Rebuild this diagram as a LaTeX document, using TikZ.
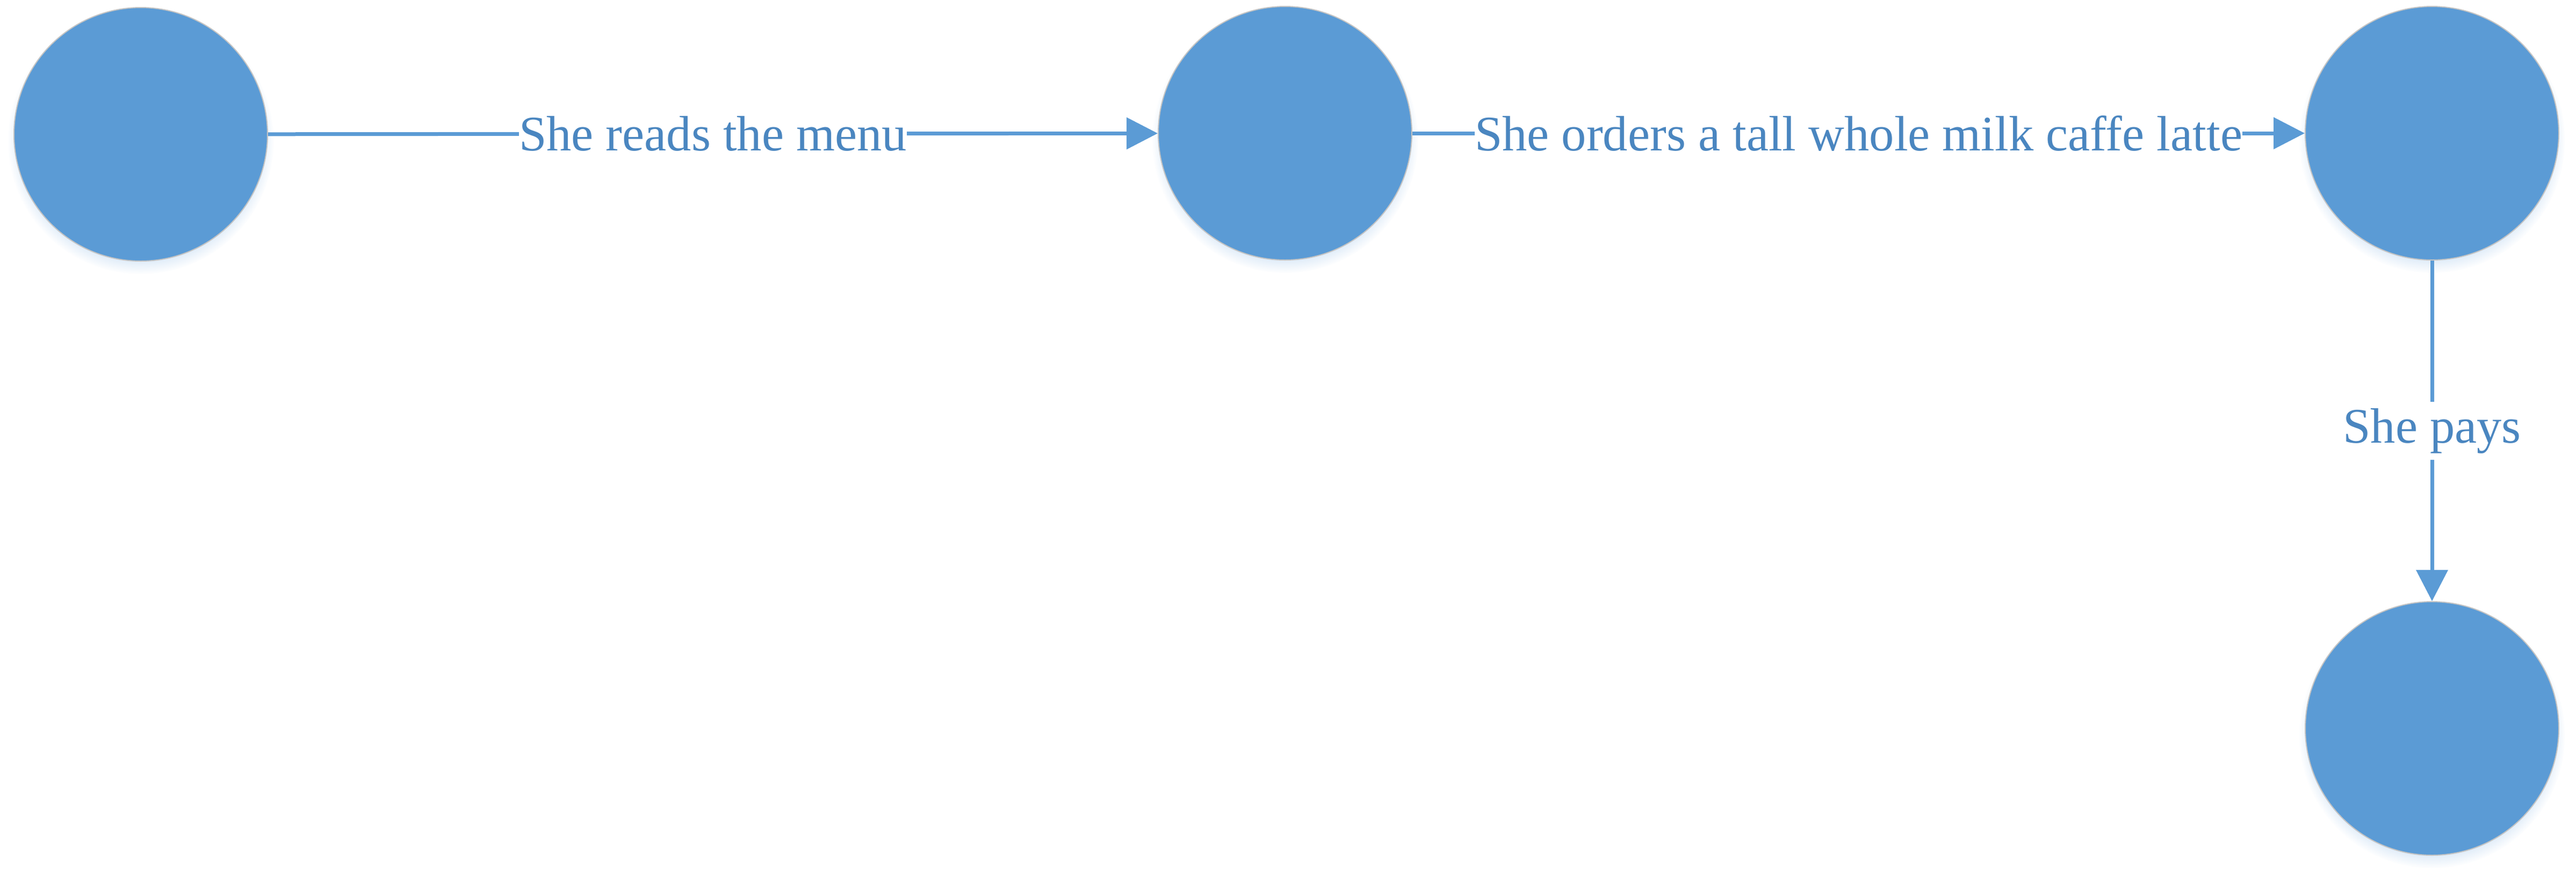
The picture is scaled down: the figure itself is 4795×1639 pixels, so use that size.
\documentclass[tikz,border=0pt]{standalone}
\usepackage{fontspec}
\setmainfont{Liberation Serif}
\usetikzlibrary{arrows.meta,shadows}
\definecolor{nodeblue}{HTML}{5B9BD5}
\definecolor{textblue}{HTML}{4A86C0}
\definecolor{rimgray}{HTML}{C4C4C4}
\definecolor{glowblue}{HTML}{9CC3EA}
\tikzset{
  state/.style={circle, fill=nodeblue, draw=rimgray, line width=0.2pt,
    minimum size=47.2pt, inner sep=0pt,
    circular drop shadow={shadow scale=1.05, shadow xshift=0pt, shadow yshift=-1.2pt,
      fill=glowblue, opacity=0.45}},
  conn/.style={draw=nodeblue, line width=0.7pt,
    -{Triangle[length=5.8pt,width=5.8pt]}},
  lbl/.style={fill=white, text=textblue, inner xsep=0pt, inner ysep=0.3pt,
    font=\fontsize{9.25}{11}\selectfont}
}
\begin{document}
\begin{tikzpicture}[x=0.1pt,y=-0.1pt]
\useasboundingbox (0,0) rectangle (4795,1639);
\node[state] (c1) at (262,250) {};
\node[state] (c2) at (2392,248) {};
\node[state] (c3) at (4527,248) {};
\node[state] (c4) at (4527,1356) {};
\draw[conn] (c1) -- node[lbl] {She reads the menu} (c2);
\draw[conn] (c2) -- node[lbl] {She orders a tall whole milk caffe latte} (c3);
\draw[conn] (c3) -- node[lbl, inner ysep=1.2pt] {She pays} (c4);
\end{tikzpicture}
\end{document}
